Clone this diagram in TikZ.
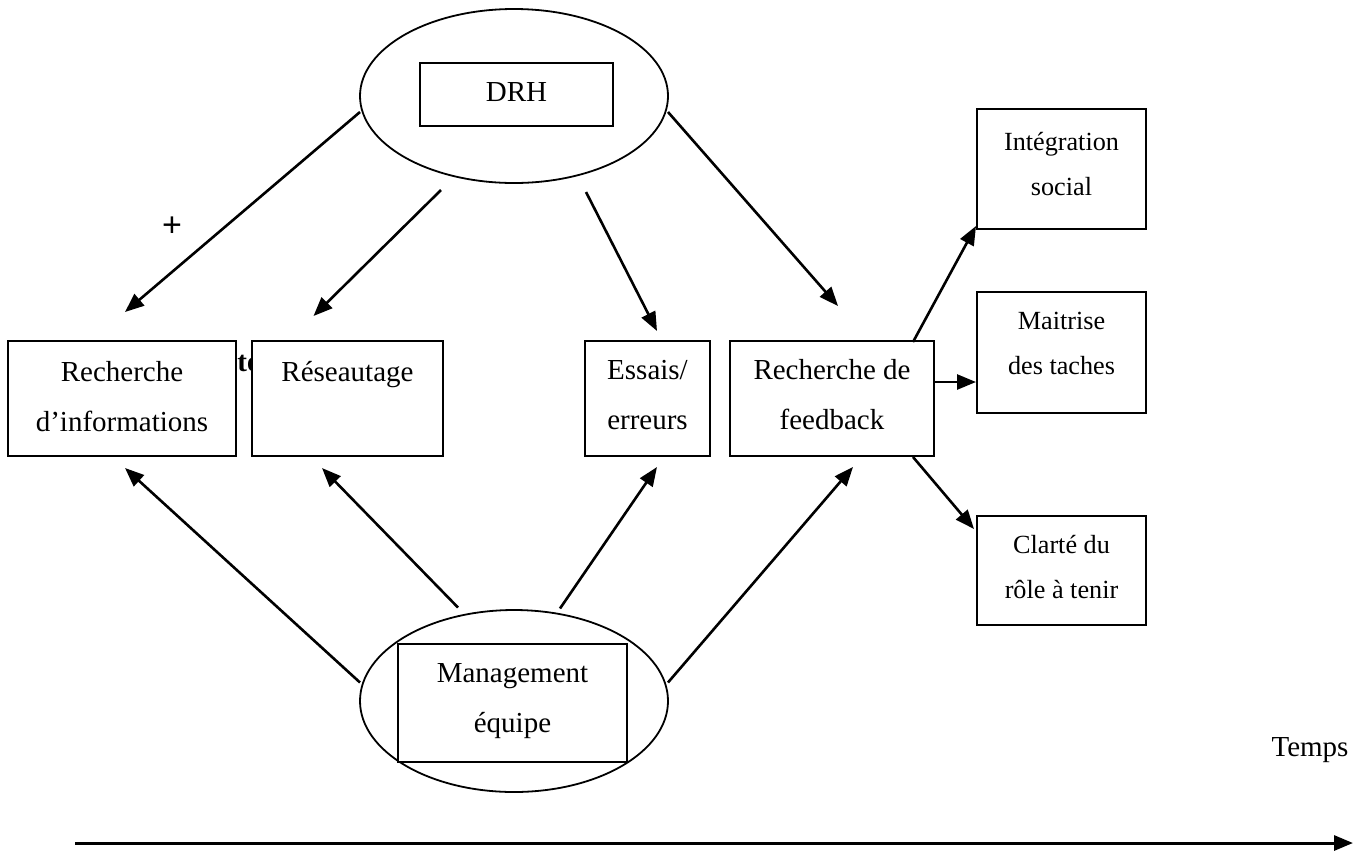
\documentclass[tikz,border=0pt]{standalone}
\usepackage{fontspec}
\setmainfont{Liberation Serif}
\newfontfamily\plusfont{Liberation Sans}
\usetikzlibrary{arrows.meta,calc,shapes.geometric}

\tikzset{
  oval/.style={draw, ellipse, line width=0.9pt, inner sep=0pt},
  box/.style={draw, rectangle, line width=1pt, fill=white, inner sep=0pt},
  big/.style={anchor=base, inner sep=0pt, font=\fontsize{14.5}{17}\selectfont},
  small/.style={anchor=base, inner sep=0pt, font=\fontsize{13.1}{16}\selectfont},
  link/.style={line width=1.3pt, -{Triangle[length=9.5pt,width=7.5pt]}}
}

\begin{document}
\begin{tikzpicture}[x=0.5pt,y=-0.5pt]
\useasboundingbox (0,0) rectangle (1355,853);

% bold fragment partly covered by the boxes
\node[big, anchor=base west, font=\fontsize{14.5}{17}\selectfont\bfseries] (frag) at (237,371) {te};

% the two actors
\node[oval, minimum width=154pt, minimum height=87pt] (drh) at (514,96) {};
\node[box, minimum width=96.5pt, minimum height=31.5pt] (drhb) at (516.5,94.5) {};
\node[big] (drht) at (516.5,101) {DRH};

\node[oval, minimum width=154pt, minimum height=91pt] (mgt) at (514,701) {};
\node[box, minimum width=114.5pt, minimum height=59pt] (mgtb) at (512.5,703) {};
\node[big] (mgt1) at (512.5,682) {Management};
\node[big] (mgt2) at (512.5,732) {équipe};

% socialisation tactics
\node[box, minimum width=114pt, minimum height=57.5pt] (ri) at (122,398.5) {};
\node[big] (ri1) at (122,381) {Recherche};
\node[big] (ri2) at (122,431) {d’informations};

\node[box, minimum width=95.5pt, minimum height=57.5pt] (res) at (347.5,398.5) {};
\node[big] (res1) at (347.5,381) {Réseautage};

\node[box, minimum width=62.5pt, minimum height=57.5pt] (ess) at (647.5,398.5) {};
\node[big] (ess1) at (647.5,379) {Essais/};
\node[big] (ess2) at (647.5,429) {erreurs};

\node[box, minimum width=102pt, minimum height=57.5pt] (fb) at (832,398.5) {};
\node[big] (fb1) at (832,379) {Recherche de};
\node[big] (fb2) at (832,429) {feedback};

% outcomes
\node[box, minimum width=84.5pt, minimum height=60pt] (integ) at (1061.5,169) {};
\node[small] (integ1) at (1061.5,150) {Intégration};
\node[small] (integ2) at (1061.5,195) {social};

\node[box, minimum width=84.5pt, minimum height=60.5pt] (mait) at (1061.5,352.5) {};
\node[small] (mait1) at (1061.5,329) {Maitrise};
\node[small] (mait2) at (1061.5,374) {des taches};

\node[box, minimum width=84.5pt, minimum height=54.5pt] (clar) at (1061.5,570.5) {};
\node[small] (clar1) at (1061.5,553) {Clarté du};
\node[small] (clar2) at (1061.5,598) {rôle à tenir};

\node[anchor=center, inner sep=0pt, font=\plusfont\fontsize{17}{19}\selectfont] (plus) at (172,227) {+};

% links from DRH
\draw[link] ($(drh.center)+(-154,16)$) -- ($(ri.north)+(3,-28)$);
\draw[link] ($(drh.center)+(-73,94)$) -- ($(res.north)+(-34,-24)$);
\draw[link] ($(drh.center)+(72,96)$) -- ($(ess.north)+(9.5,-9)$);
\draw[link] ($(drh.center)+(154,16)$) -- ($(fb.north)+(6,-34)$);

% links from team management
\draw[link] ($(mgt.center)+(-154,-18.5)$) -- ($(ri.south)+(3,11)$);
\draw[link] ($(mgt.center)+(-56,-93.5)$) -- ($(res.south)+(-25.5,11)$);
\draw[link] ($(mgt.center)+(46,-92.5)$) -- ($(ess.south)+(9.5,10)$);
\draw[link] ($(mgt.center)+(154,-18.5)$) -- ($(fb.south)+(21,10)$);

% feedback seeking towards outcomes
\draw[link] ($(fb.north)+(81,2)$) -- ($(integ.south west)+(0,-4)$);
\draw[link] ($(fb.east)+(0,-16.5)$) -- ($(mait.west)+(0,29.5)$);
\draw[link] ($(fb.south)+(81,0)$) -- ($(clar.north west)+(-2,14)$);

% time axis
\coordinate (t0) at (75,843);
\coordinate (t1) at (1353,843);
\draw[link, line width=1.5pt] (t0) -- (t1);
\node[big, anchor=center] (temps) at (1310,750) {Temps};
\end{tikzpicture}
\end{document}
